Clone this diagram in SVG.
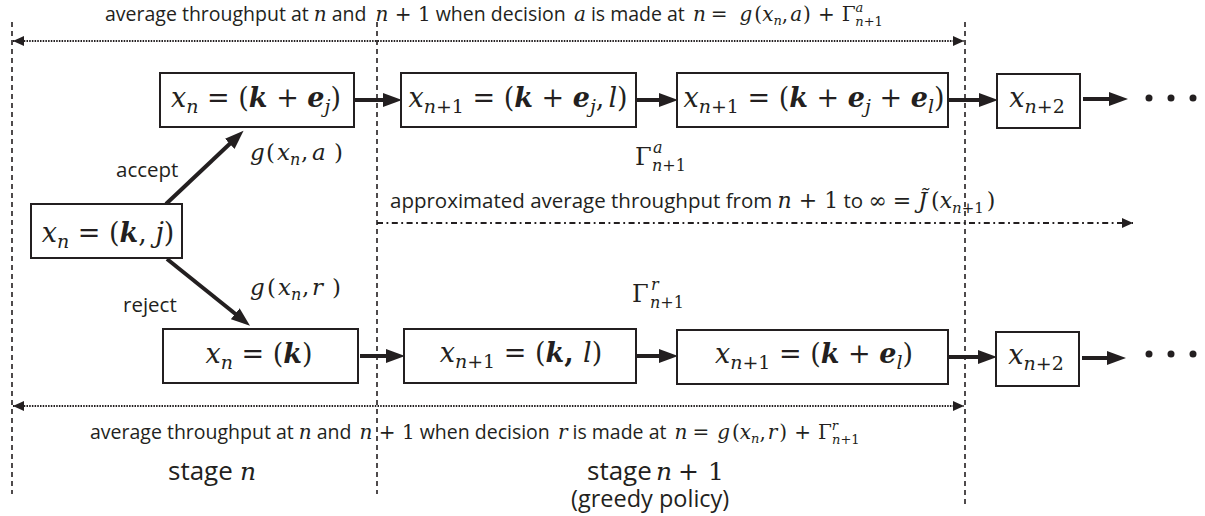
<svg xmlns="http://www.w3.org/2000/svg" width="1205" height="516" viewBox="0 0 1205 516">
<style>
.box{fill:#fff;stroke:#231f20;stroke-width:2}
.thick{stroke:#231f20;stroke-width:4;fill:none;marker-end:url(#ah)}
.vdash{stroke:#231f20;stroke-width:1.6;stroke-dasharray:5 4;fill:none}
.dot{stroke:#231f20;stroke-width:1.8;stroke-dasharray:1.5 1.2;fill:none;marker-start:url(#sh);marker-end:url(#sh)}
.dd{stroke:#231f20;stroke-width:1.8;stroke-dasharray:6 3.5 1.8 3.5;fill:none;marker-end:url(#sh)}
.sans{font-family:"Open Sans","Liberation Sans",sans-serif;fill:#231f20}
.m{font-family:"DejaVu Serif","Liberation Serif",serif;fill:#231f20}
.nm{font-family:"DejaVu Serif","Liberation Serif",serif;font-size:27px}
.i{font-style:italic}
.b{font-weight:bold;font-style:italic}
.sub{font-size:19px}
text{fill:#231f20}
</style>
<defs>
<marker id="ah" markerUnits="userSpaceOnUse" markerWidth="20" markerHeight="14" refX="10" refY="7" orient="auto"><path d="M0,0 L19,7 L0,14 z" fill="#231f20"/></marker>
<marker id="sh" markerUnits="userSpaceOnUse" markerWidth="12" markerHeight="10" refX="11" refY="5" orient="auto-start-reverse"><path d="M0,0 L11,5 L0,10 z" fill="#231f20"/></marker>
</defs>

<g id="stage-lines">
<line class="vdash" x1="12" y1="22" x2="12" y2="494"/>
<line class="vdash" x1="377" y1="22" x2="377" y2="494"/>
<line class="vdash" x1="965" y1="22" x2="965" y2="504"/>
</g>

<g id="connectors">
<line class="dot" x1="13" y1="41" x2="964" y2="41"/>
<line class="dot" x1="13" y1="406" x2="964" y2="406"/>
<line class="dd" x1="377" y1="223" x2="1133" y2="223"/>
<line class="thick" x1="166" y1="204" x2="237" y2="137"/>
<line class="thick" x1="167" y1="259" x2="243" y2="320"/>
<line class="thick" x1="355" y1="100" x2="393" y2="100"/>
<line class="thick" x1="637" y1="100" x2="669" y2="100"/>
<line class="thick" x1="949" y1="100" x2="989" y2="100"/>
<line class="thick" x1="1083" y1="99" x2="1119" y2="99"/>
<line class="thick" x1="360" y1="356" x2="396" y2="356"/>
<line class="thick" x1="637" y1="356" x2="669" y2="356"/>
<line class="thick" x1="949" y1="357" x2="988" y2="357"/>
<line class="thick" x1="1082" y1="358" x2="1117" y2="358"/>
</g>

<g id="ellipsis-top"><circle cx="1149" cy="98" r="3.5" fill="#231f20"/><circle cx="1171" cy="98" r="3.5" fill="#231f20"/><circle cx="1193" cy="98" r="3.5" fill="#231f20"/></g>
<g id="ellipsis-bottom"><circle cx="1149" cy="354" r="3.5" fill="#231f20"/><circle cx="1171" cy="354" r="3.5" fill="#231f20"/><circle cx="1193" cy="354" r="3.5" fill="#231f20"/></g>

<g id="node-xn-kj">
<rect class="box" x="31" y="204" width="151" height="54"/>
<text class="nm" x="108" y="242" text-anchor="middle"><tspan class="i">x</tspan><tspan class="i sub" dy="6">n</tspan><tspan dy="-6"> = (</tspan><tspan class="b">k</tspan><tspan>, </tspan><tspan class="i">j</tspan><tspan>)</tspan></text>
</g>

<g id="node-xn-kej">
<rect class="box" x="160" y="73" width="194" height="54"/>
<text class="nm" x="256" y="107" text-anchor="middle"><tspan class="i">x</tspan><tspan class="i sub" dy="6">n</tspan><tspan dy="-6"> = (</tspan><tspan class="b">k</tspan><tspan> + </tspan><tspan class="b">e</tspan><tspan class="i sub" dy="6">j</tspan><tspan dy="-6">)</tspan></text>
</g>

<g id="node-xn1-kejl">
<rect class="box" x="401" y="73" width="235" height="54"/>
<text class="nm" x="518" y="107" text-anchor="middle"><tspan class="i">x</tspan><tspan class="sub" dy="6"><tspan class="i">n</tspan>+1</tspan><tspan dy="-6"> = (</tspan><tspan class="b">k</tspan><tspan> + </tspan><tspan class="b">e</tspan><tspan class="i sub" dy="6">j</tspan><tspan dy="-6">,</tspan><tspan class="i" dx="4">l</tspan><tspan>)</tspan></text>
</g>

<g id="node-xn1-kejel">
<rect class="box" x="677" y="73" width="271" height="54"/>
<text class="nm" x="814" y="107" text-anchor="middle"><tspan class="i">x</tspan><tspan class="sub" dy="6"><tspan class="i">n</tspan>+1</tspan><tspan dy="-6"> = (</tspan><tspan class="b">k</tspan><tspan> + </tspan><tspan class="b">e</tspan><tspan class="i sub" dy="6">j</tspan><tspan dy="-6"> + </tspan><tspan class="b">e</tspan><tspan class="i sub" dy="6">l</tspan><tspan dy="-6">)</tspan></text>
</g>

<g id="node-xn2-top">
<rect class="box" x="997" y="74" width="83" height="54"/>
<text class="nm" x="1037" y="107" text-anchor="middle"><tspan class="i">x</tspan><tspan class="sub" dy="6"><tspan class="i">n</tspan>+2</tspan></text>
</g>

<g id="node-xn-k">
<rect class="box" x="163" y="329" width="195" height="54"/>
<text class="nm" x="259" y="363" text-anchor="middle"><tspan class="i">x</tspan><tspan class="i sub" dy="6">n</tspan><tspan dy="-6"> = (</tspan><tspan class="b">k</tspan><tspan>)</tspan></text>
</g>

<g id="node-xn1-kl">
<rect class="box" x="404" y="329" width="232" height="54"/>
<text class="nm" x="521" y="362" text-anchor="middle"><tspan class="i">x</tspan><tspan class="sub" dy="6"><tspan class="i">n</tspan>+1</tspan><tspan dy="-6"> = (</tspan><tspan class="b">k</tspan><tspan font-weight="bold">, </tspan><tspan class="i">l</tspan><tspan>)</tspan></text>
</g>

<g id="node-xn1-kel">
<rect class="box" x="677" y="330" width="271" height="54"/>
<text class="nm" x="814" y="363" text-anchor="middle"><tspan class="i">x</tspan><tspan class="sub" dy="6"><tspan class="i">n</tspan>+1</tspan><tspan dy="-6"> = (</tspan><tspan class="b">k</tspan><tspan> + </tspan><tspan class="b">e</tspan><tspan class="i sub" dy="6">l</tspan><tspan dy="-6">)</tspan></text>
</g>

<g id="node-xn2-bottom">
<rect class="box" x="996" y="332" width="83" height="54"/>
<text class="nm" x="1036" y="364" text-anchor="middle"><tspan class="i">x</tspan><tspan class="sub" dy="6"><tspan class="i">n</tspan>+2</tspan></text>
</g>

<g id="labels">
<text class="sans" x="105" y="21" font-size="19.5">average throughput at <tspan class="m i" font-size="20">n</tspan> and <tspan class="m i" font-size="20" dx="4">n</tspan><tspan class="m" font-size="20"> + 1</tspan> when decision <tspan class="m i" font-size="20" dx="3">a</tspan> is made at <tspan class="m i" font-size="20" dx="3">n</tspan><tspan class="m" font-size="20" dx="5">=</tspan><tspan class="m i" font-size="20" dx="12">g</tspan><tspan class="m" font-size="20" dx="2">(</tspan><tspan class="m i" font-size="20">x</tspan><tspan class="m i" font-size="13" dy="4">n</tspan><tspan class="m" font-size="20" dy="-4">,</tspan><tspan class="m i" font-size="20" dx="2">a</tspan><tspan class="m" font-size="20" dx="1">)</tspan><tspan class="m" font-size="20" dx="7">+</tspan><tspan class="m" font-size="20" dx="7">Γ</tspan><tspan class="m i" font-size="13" dy="-9">a</tspan><tspan class="m" font-size="13" dx="-8" dy="14"><tspan class="i">n</tspan>+1</tspan></text>

<text class="sans" x="116" y="177" font-size="20.5">accept</text>
<text class="m" y="160" font-size="23"><tspan x="250" class="i">g</tspan><tspan x="266">(</tspan><tspan x="277" class="i">x</tspan><tspan x="290" class="i" font-size="16" dy="5">n</tspan><tspan x="301" dy="-5">,</tspan><tspan x="312" class="i">a</tspan><tspan x="334">)</tspan></text>

<text class="sans" x="123" y="312" font-size="20.5">reject</text>
<text class="m" y="295" font-size="23"><tspan x="250" class="i">g</tspan><tspan x="267">(</tspan><tspan x="278" class="i">x</tspan><tspan x="291" class="i" font-size="16" dy="5">n</tspan><tspan x="302" dy="-5">,</tspan><tspan x="312" class="i">r</tspan><tspan x="332">)</tspan></text>

<text class="m" y="165" font-size="24"><tspan x="635">Γ</tspan><tspan x="653" class="i" font-size="16" dy="-12">a</tspan><tspan x="652" font-size="16" dy="18"><tspan class="i">n</tspan>+1</tspan></text>
<text class="m" y="302" font-size="24"><tspan x="632">Γ</tspan><tspan x="651" class="i" font-size="16" dy="-12">r</tspan><tspan x="650" font-size="16" dy="18"><tspan class="i">n</tspan>+1</tspan></text>

<text class="sans" x="390" y="208" font-size="20.5">approximated average throughput from <tspan class="m i" font-size="22">n</tspan><tspan class="m" font-size="22"> + 1</tspan> to <tspan class="m" font-size="22">∞</tspan><tspan class="m" font-size="22" dx="6">=</tspan><tspan class="m i" font-size="22" dx="7">J̃</tspan><tspan class="m" font-size="22" dx="4">(</tspan><tspan class="m i" font-size="22">x</tspan><tspan class="m" font-size="15" dy="5"><tspan class="i">n</tspan>+1</tspan><tspan class="m" font-size="22" dy="-5" dx="3">)</tspan></text>

<text class="sans" x="90" y="439" font-size="19.5">average throughput at <tspan class="m i" font-size="20">n</tspan> and <tspan class="m i" font-size="20" dx="3">n</tspan><tspan class="m" font-size="20"> + 1</tspan> when decision <tspan class="m i" font-size="20" dx="3">r</tspan> is made at <tspan class="m i" font-size="20" dx="3">n</tspan><tspan class="m" font-size="20" dx="5">=</tspan><tspan class="m i" font-size="20" dx="8">g</tspan><tspan class="m" font-size="20" dx="2">(</tspan><tspan class="m i" font-size="20">x</tspan><tspan class="m i" font-size="13" dy="4">n</tspan><tspan class="m" font-size="20" dy="-4">,</tspan><tspan class="m i" font-size="20" dx="2">r</tspan><tspan class="m" font-size="20" dx="2">)</tspan><tspan class="m" font-size="20" dx="7">+</tspan><tspan class="m" font-size="20" dx="7">Γ</tspan><tspan class="m i" font-size="13" dy="-9">r</tspan><tspan class="m" font-size="13" dx="-6" dy="14"><tspan class="i">n</tspan>+1</tspan></text>

<text class="sans" y="480" font-size="26"><tspan x="168">stage</tspan><tspan x="240" class="m i" font-size="25">n</tspan></text>
<text class="sans" y="480" font-size="26"><tspan x="587">stage</tspan><tspan x="656" class="m i" font-size="25">n</tspan><tspan x="678" class="m" font-size="25">+</tspan><tspan x="708" class="m" font-size="25">1</tspan></text>
<text class="sans" x="571" y="507" font-size="23.5">(greedy policy)</text>
</g>
</svg>
